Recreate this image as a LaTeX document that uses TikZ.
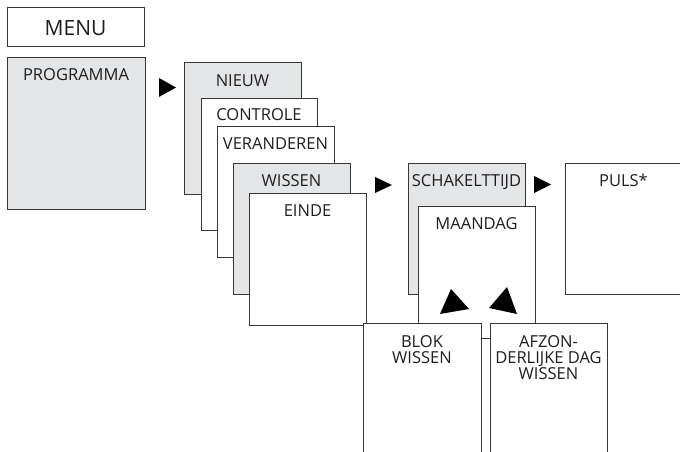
\documentclass[tikz,border=0pt]{standalone}
\usepackage{fontspec}
\setmainfont{Open Sans}
\definecolor{boxgray}{RGB}{228,229,231}
\definecolor{edge}{RGB}{55,55,55}
\definecolor{ink}{RGB}{30,30,30}
\begin{document}
\begin{tikzpicture}[x=1pt,y=-1pt,
  box/.style={draw=edge, line width=1pt},
  graybox/.style={box, fill=boxgray},
  whitebox/.style={box, fill=white},
  lbl/.style={anchor=base, inner sep=0pt, text=ink, font=\fontsize{16.5}{16}\selectfont},
  mlbl/.style={anchor=north, inner sep=0pt, text=ink, align=center, font=\fontsize{16.5}{16}\selectfont},
  tri/.style={fill=black}]
\useasboundingbox (0,0) rectangle (680,452);
\clip (0,0) rectangle (680,452);
% MENU
\draw[whitebox] (7,8) rectangle (144,47);
\node[anchor=base, inner sep=0pt, text=ink, font=\fontsize{21}{24}\selectfont] (menu) at (75.5,36) {MENU};
% PROGRAMMA
\draw[graybox] (7,58) rectangle (145,209);
\node[lbl] (programma) at (76,81) {PROGRAMMA};
\coordinate (a1) at (159,78);
\fill[tri] (a1) -- (159,97) -- (176,87.5) -- cycle;
% stack
\draw[graybox] (184,63) rectangle (301,194);
\node[lbl] (nieuw) at (242.5,86) {NIEUW};
\draw[whitebox] (201,98) rectangle (317,230);
\node[lbl] (controle) at (259,121) {CONTROLE};
\draw[whitebox] (217,126) rectangle (334,257);
\node[lbl] (veranderen) at (275.5,149) {VERANDEREN};
\draw[graybox] (233,163) rectangle (350,294);
\node[lbl] (wissen) at (291.5,186) {WISSEN};
\draw[whitebox] (249,193) rectangle (366,325);
\node[lbl] (einde) at (307.5,216) {EINDE};
\fill[tri] (375,177) -- (375,193) -- (392,185) -- cycle;
% schakeltijd
\draw[graybox] (408,163) rectangle (525,294);
\node[lbl] (schakel) at (466.5,186) {SCHAKELTTIJD};
\draw[whitebox] (418,206) rectangle (535,338);
\node[lbl] (maandag) at (476.5,229) {MAANDAG};
\fill[tri] (534,176) -- (534,193) -- (551,184.5) -- cycle;
% puls
\draw[whitebox] (565,163) rectangle (682,294);
\node[lbl] (puls) at (623.5,186) {PULS*};
% bottom
\draw[whitebox] (363,323) rectangle (481,470);
\node[mlbl] (blok) at (422,335) {BLOK\\WISSEN};
\draw[whitebox] (490,323) rectangle (607,470);
\node[mlbl] (afzon) at (548.5,335) {AFZON-\\DERLIJKE DAG\\WISSEN};
% up arrows
\fill[tri] (451,289) -- (440,314) -- (469,309) -- cycle;
\fill[tri] (507,287) -- (489,308) -- (517,314) -- cycle;
\end{tikzpicture}
\end{document}
